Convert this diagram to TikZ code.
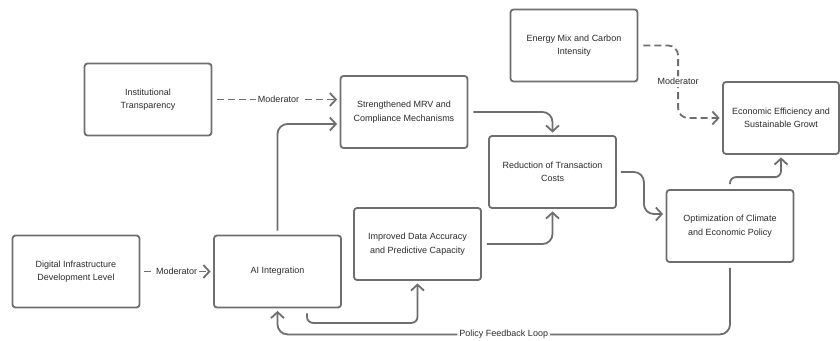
\documentclass[tikz,border=0pt]{standalone}
\usepackage{fontspec}
\setmainfont{Liberation Sans}
\usetikzlibrary{arrows.meta}
\definecolor{edgegray}{HTML}{6E6E6E}
\definecolor{txtgray}{HTML}{2B2B2B}
\begin{document}
\begin{tikzpicture}[x=1pt,y=-1pt,
  box/.style={draw=edgegray,line width=1.8pt,rounded corners=3pt,align=center,
    minimum width=127pt,minimum height=72pt,inner sep=0pt,
    font=\fontsize{9}{13.5}\selectfont,text=txtgray},
  conn/.style={draw=edgegray,line width=1.8pt,rounded corners=10pt,
    -{Straight Barb[length=6pt,width=13pt]},shorten >=2.5pt},
  dconn/.style={conn,dash pattern=on 7pt off 4pt},
  lbl/.style={fill=white,inner sep=2pt,font=\fontsize{9}{11}\selectfont,text=txtgray}]
\useasboundingbox (0,0) rectangle (840,340);
\fill[white] (0,0) rectangle (840,340);
% boxes
\node[box] (inst) at (148,99.5) {Institutional\\Transparency};
\node[box] (mrv) at (404,112) {Strengthened MRV and\\Compliance Mechanisms};
\node[box] (energy) at (574,45.5) {Energy Mix and Carbon\\Intensity};
\node[box,minimum width=116pt] (econ) at (781,118) {Economic Efficiency and\\Sustainable Growt};
\node[box] (red) at (552.5,172) {Reduction of Transaction\\Costs};
\node[box] (opt) at (730,226) {Optimization of Climate\\and Economic Policy};
\node[box] (dig) at (76,271.5) {Digital Infrastructure\\Development Level};
\node[box] (ai) at (277.5,271.5) {AI Integration};
\node[box] (imp) at (417.5,244) {Improved Data Accuracy\\and Predictive Capacity};
% connectors
\draw[dconn] ([xshift=5pt]inst.east) -- node[lbl]{Moderator} (inst.east -| mrv.west);
\draw[dconn] ([xshift=4pt]dig.east) -- node[lbl,pos=0.47]{Moderator} (dig.east -| ai.west);
\draw[conn] ([yshift=4pt]ai.north) |- ([yshift=-12pt]mrv.west);
\draw[conn] ([xshift=5pt]mrv.east) -| (red.north);
\draw[dconn] ([xshift=5pt]energy.east) -| node[lbl,pos=0.75]{Moderator} ([xshift=-44pt]econ.west) -- (econ.west);
\draw[conn] ([xshift=4pt]red.east) -- ++(23,0) |- ([yshift=12pt]opt.west);
\draw[conn] ([xshift=5pt]imp.east) -| (red.south);
\draw[conn,rounded corners=6pt] ([xshift=29.5pt,yshift=-5pt]ai.south) |- ([yshift=-42pt]imp.south) -- (imp.south);
\draw[conn,rounded corners=6pt] ([yshift=5pt]opt.north) -- ++(0,-7) -| (econ.south);
\draw[conn] ([yshift=-5pt]opt.south) |- node[lbl,pos=0.75]{Policy Feedback Loop} ([yshift=-26pt]ai.south) -- (ai.south);
\end{tikzpicture}
\end{document}
